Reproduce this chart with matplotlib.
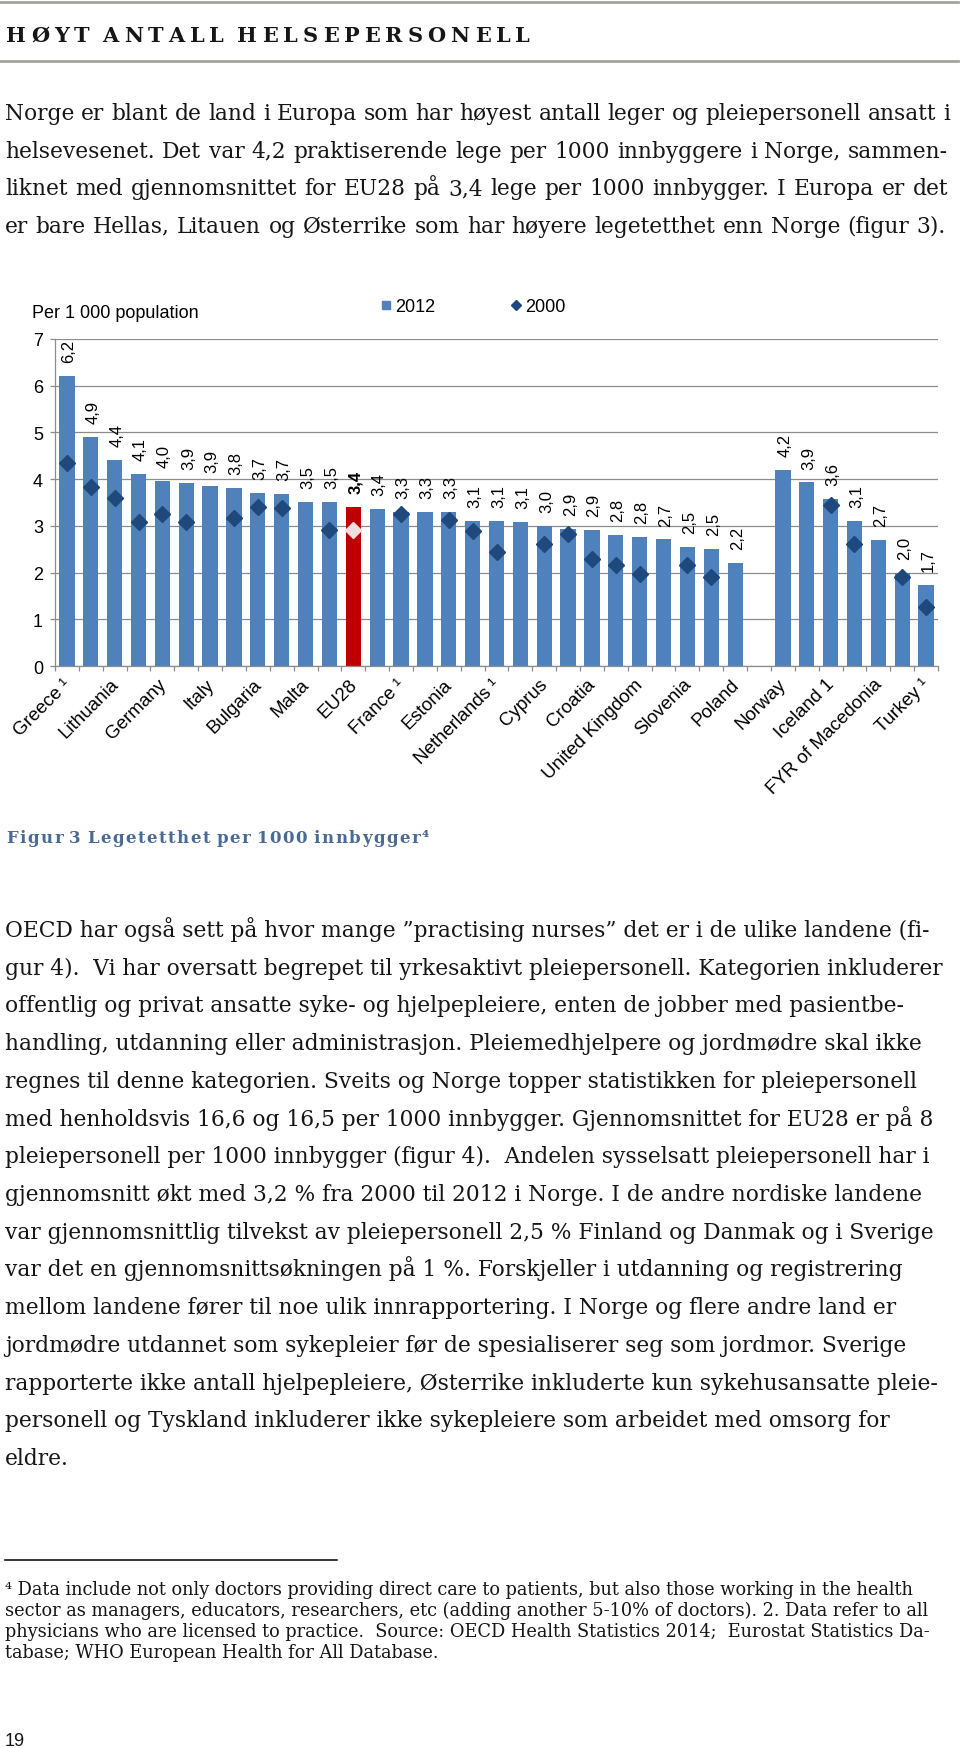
import matplotlib
matplotlib.use("Agg")
import matplotlib.pyplot as plt
import matplotlib.transforms as mtrans
from matplotlib.lines import Line2D
import numpy as np

W, H = 960, 1749

# --- chart data (practising doctors per 1 000 population) ---
countries = ["Greece ¹", "", "Lithuania", "", "Germany", "", "Italy", "", "Bulgaria", "",
             "Malta", "", "EU28", "", "France ¹", "", "Estonia", "", "Netherlands ¹", "",
             "Cyprus", "", "Croatia", "", "United Kingdom", "", "Slovenia", "", "Poland", "",
             "Norway", "", "Iceland 1", "", "FYR of Macedonia", "", "Turkey ¹"]
doctors_2012 = [6.20, 4.91, 4.41, 4.11, 3.96, 3.91, 3.86, 3.82, 3.71, 3.68,
                3.51, 3.51, 3.41, 3.36, 3.30, 3.29, 3.29, 3.11, 3.11, 3.09,
                3.00, 2.94, 2.91, 2.80, 2.76, 2.71, 2.54, 2.50, 2.21, None,
                4.20, 3.93, 3.57, 3.11, 2.70, 2.00, 1.73]
doctors_2000 = [4.34, 3.84, 3.59, 3.09, 3.26, 3.09, None, 3.16, 3.40, 3.38,
                None, 2.91, 2.91, None, 3.26, None, 3.13, 2.89, 2.44, None,
                2.61, 2.82, 2.30, 2.16, 1.96, None, 2.16, 1.91, None, None,
                None, None, 3.44, 2.61, None, 1.91, 1.26]
highlight = "EU28"

# --- page text ---
heading = "HØYT ANTALL HELSEPERSONELL"
para1 = [
    "Norge er blant de land i Europa som har høyest antall leger og pleiepersonell ansatt i",
    "helsevesenet. Det var 4,2 praktiserende lege per 1000 innbyggere i Norge, sammen-",
    "liknet med gjennomsnittet for EU28 på 3,4 lege per 1000 innbygger. I Europa er det",
    "er bare Hellas, Litauen og Østerrike som har høyere legetetthet enn Norge (figur 3).",
]
para1_ends = [950, 948, 948, 946]
caption = "Figur 3 Legetetthet per 1000 innbygger⁴"
para2 = [
    "OECD har også sett på hvor mange ”practising nurses” det er i de ulike landene (fi-",
    "gur 4).  Vi har oversatt begrepet til yrkesaktivt pleiepersonell. Kategorien inkluderer",
    "offentlig og privat ansatte syke- og hjelpepleiere, enten de jobber med pasientbe-",
    "handling, utdanning eller administrasjon. Pleiemedhjelpere og jordmødre skal ikke",
    "regnes til denne kategorien. Sveits og Norge topper statistikken for pleiepersonell",
    "med henholdsvis 16,6 og 16,5 per 1000 innbygger. Gjennomsnittet for EU28 er på 8",
    "pleiepersonell per 1000 innbygger (figur 4).  Andelen sysselsatt pleiepersonell har i",
    "gjennomsnitt økt med 3,2 % fra 2000 til 2012 i Norge. I de andre nordiske landene",
    "var gjennomsnittlig tilvekst av pleiepersonell 2,5 % Finland og Danmak og i Sverige",
    "var det en gjennomsnittsøkningen på 1 %. Forskjeller i utdanning og registrering",
    "mellom landene fører til noe ulik innrapportering. I Norge og flere andre land er",
    "jordmødre utdannet som sykepleier før de spesialiserer seg som jordmor. Sverige",
    "rapporterte ikke antall hjelpepleiere, Østerrike inkluderte kun sykehusansatte pleie-",
    "personell og Tyskland inkluderer ikke sykepleiere som arbeidet med omsorg for",
    "eldre.",
]
para2_ends = [928, 943, 908, 935, 915, 940, 933, 930, 937, 905, 902, 912, 943, 895, None]
notes = [
    "⁴ Data include not only doctors providing direct care to patients, but also those working in the health",
    "sector as managers, educators, researchers, etc (adding another 5-10% of doctors). 2. Data refer to all",
    "physicians who are licensed to practice.  Source: OECD Health Statistics 2014;  Eurostat Statistics Da-",
    "tabase; WHO European Health for All Database.",
]
notes_ends = [923, 924, 934, None]

BLUE = "#4F81BD"
RED = "#C00000"
NAVY = "#1F497D"
PALE = "#EFDEDE"
GRID = "#8C8C8C"
INK = "#161616"
RULE = "#A3A39A"

plt.rcParams["font.family"] = ["Liberation Sans", "DejaVu Sans"]
SERIF = ["DejaVu Serif"]

fig = plt.figure(figsize=(W / 100, H / 100), dpi=100)
R = fig.canvas.get_renderer()


def fx(px):
    return px / W


def fy(py):
    return 1 - py / H


def width_of(s, **kw):
    t = fig.text(0, 0, s, **kw)
    w = t.get_window_extent(R).width
    t.remove()
    return w


def fit_size(lines, ends, x0, **kw):
    # font size at which the lines come closest to their measured right edges
    ratios = [(e - x0) / width_of(s, fontsize=10, **kw)
              for s, e in zip(lines, ends) if e is not None]
    return 10 * float(np.median(ratios))


def place(tokens, gaps, x0, x1, base, **kw):
    # spread tokens between x0 and x1, gap sizes proportional to weights
    arts = [fig.text(0, fy(base), t, va="baseline", ha="left", **kw) for t in tokens]
    widths = [a.get_window_extent(R).width if t else 0.0 for a, t in zip(arts, tokens)]
    unit = (x1 - x0 - sum(widths)) / max(sum(gaps), 1)
    x = x0
    for a, w, g in zip(arts, widths, list(gaps) + [0]):
        a.set_x(fx(x))
        x += w + g * unit


def justified(s, x0, x1, base, **kw):
    words = s.split(" ")
    place(words, [1] * (len(words) - 1), x0, x1, base, **kw)


def tracked(s, x0, x1, base, word_gap, **kw):
    chars, gaps, w = [], [], 1
    for c in s:
        if c == " ":
            w = word_gap
            continue
        if chars:
            gaps.append(w)
        chars.append(c)
        w = 1
    place(chars, gaps, x0, x1, base, **kw)


def rule(x0, x1, y, color, lw):
    fig.add_artist(Line2D([fx(x0), fx(x1)], [fy(y), fy(y)], transform=fig.transFigure,
                          color=color, lw=lw))


body = fit_size(para2, para2_ends, 5, family=SERIF)
small = fit_size(notes, notes_ends, 5, family=SERIF)

# header
rule(0, 958, 3, RULE, 2.0)
tracked(heading, 6, 530, 42, 2.6, family=SERIF, fontsize=15, fontweight="bold", color=INK)
rule(0, 958, 62, RULE, 2.0)

for i, (s, e) in enumerate(zip(para1, para1_ends)):
    justified(s, 5, e, 120 + i * 37.6, family=SERIF, fontsize=body, color=INK)

# chart
ax = fig.add_axes([fx(55), fy(667), fx(938) - fx(55), (667 - 340) / H])
bar_x = [i for i, v in enumerate(doctors_2012) if v is not None]
bar_h = [doctors_2012[i] for i in bar_x]
bar_c = [RED if countries[i] == highlight else BLUE for i in bar_x]
ax.bar(bar_x, bar_h, width=0.64, color=bar_c, zorder=2)
for i, v in zip(bar_x, bar_h):
    ax.annotate(f"{v:.1f}".replace(".", ","), (i, v), xytext=(1.5, 10),
                textcoords="offset points", rotation=90, ha="center", va="bottom",
                fontsize=12, color="black",
                fontweight="bold" if countries[i] == highlight else "normal")

old_x = [i for i, v in enumerate(doctors_2000) if v is not None and countries[i] != highlight]
ax.plot(old_x, [doctors_2000[i] for i in old_x], ls="none", marker="D", ms=8.5,
        color=NAVY, zorder=3)
hi = countries.index(highlight)
ax.plot([hi], [doctors_2000[hi]], ls="none", marker="D", ms=8.5, color=PALE, zorder=3)

ax.set_xlim(-0.5, len(countries) - 0.5)
ax.set_ylim(0, 7)
ax.set_yticks(range(8))
ax.yaxis.grid(True, color=GRID, lw=0.9)
ax.set_axisbelow(True)
for side in ["top", "right"]:
    ax.spines[side].set_visible(False)
for side in ["left", "bottom"]:
    ax.spines[side].set_color(GRID)
    ax.spines[side].set_linewidth(0.9)
ax.tick_params(axis="y", length=3.6, color=GRID, width=0.9, pad=5, labelsize=13)

lab_pos = [i for i, c in enumerate(countries) if c]
ax.set_xticks(lab_pos)
ax.set_xticklabels([countries[i] for i in lab_pos], rotation=45, ha="right", va="center",
                   rotation_mode="anchor", fontsize=13.5)
ax.set_xticks(np.arange(-0.5, len(countries)), minor=True)
ax.tick_params(axis="x", which="major", length=0, pad=11)
ax.tick_params(axis="x", which="minor", length=3.6, color=GRID, width=0.9)
shift = mtrans.ScaledTranslation(1 / 100, 0, fig.dpi_scale_trans)
for lab in ax.get_xticklabels():
    lab.set_transform(lab.get_transform() + shift)

fig.text(fx(32), fy(313), "Per 1 000 population", fontsize=13, va="center", ha="left")
handles = [Line2D([], [], ls="none", marker="s", ms=5.5, color=BLUE),
           Line2D([], [], ls="none", marker="D", ms=5, color=NAVY)]
fig.legend(handles, ["2012", "2000"], loc="center", bbox_to_anchor=(fx(473), fy(308)),
           ncol=2, frameon=False, fontsize=13, handlelength=0.6, handletextpad=0.2,
           columnspacing=4.2, borderpad=0)

# caption and second paragraph
tracked(caption, 6, 429, 843, 4, family=SERIF, fontsize=12, fontweight="bold",
        color="#4A6A96")
for i, s in enumerate(para2):
    fig.text(fx(5), fy(937 + i * 37.72), s, va="baseline", family=SERIF,
             fontsize=body, color=INK)

# footnotes
rule(5, 337, 1561, "black", 1.1)
for i, s in enumerate(notes):
    fig.text(fx(5), fy(1595 + i * 21), s, va="baseline", family=SERIF,
             fontsize=small, color=INK)
fig.text(fx(5), fy(1746), "19", fontsize=13, va="baseline", color=INK)

fig.savefig("out.png", dpi=100)
